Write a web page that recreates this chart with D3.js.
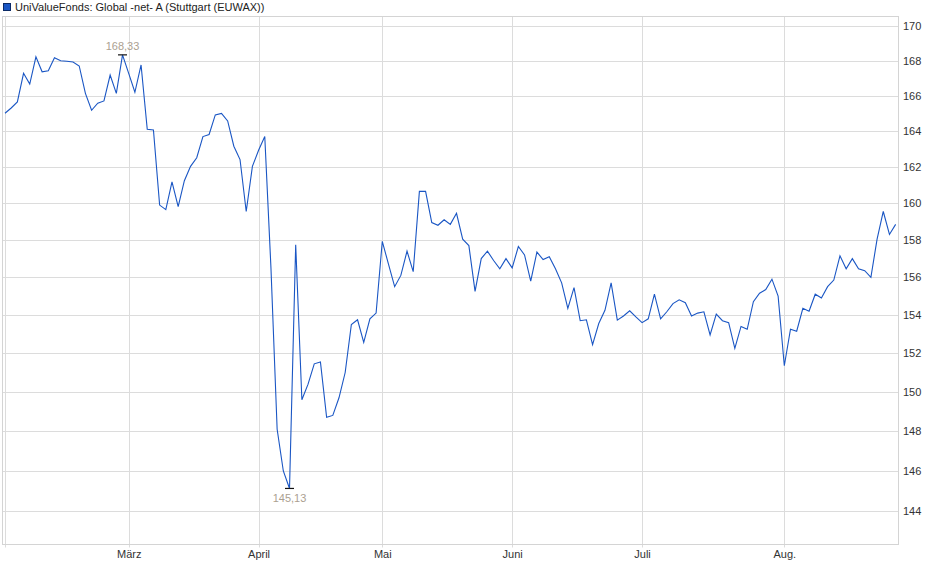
<!DOCTYPE html>
<html>
<head>
<meta charset="utf-8">
<script src="https://cdn.jsdelivr.net/npm/d3@7"></script>
<style>
  html, body { margin: 0; padding: 0; background: #fff; }
  svg { display: block; font-family: "Liberation Sans", Arial, sans-serif; }
</style>
</head>
<body>
<svg id="chart" width="940" height="579"></svg>
<script>
const title = "UniValueFonds: Global -net- A (Stuttgart (EUWAX))";

// Month gridlines: index of the first trading day of each month
const monthIndex  = [0, 20, 41, 61, 82, 103, 126];
const monthLabels = ["", "März", "April", "Mai", "Juni", "Juli", "Aug."];

const yTicks = [144, 146, 148, 150, 152, 154, 156, 158, 160, 162, 164, 166, 168, 170];

// Daily closing prices (trading days, Feb - Aug)
const prices = [
  165.00, 165.30, 165.64, 167.27, 166.66, 168.22, 167.36, 167.42, 168.17, 167.99,
  167.96, 167.92, 167.69, 166.13, 165.17, 165.57, 165.70, 167.17, 166.13, 168.33,
  167.27, 166.19, 167.75, 164.10, 164.06, 159.90, 159.65, 161.18, 159.81, 161.24,
  162.03, 162.51, 163.69, 163.81, 164.91, 164.99, 164.57, 163.15, 162.41, 159.55,
  162.03, 162.93, 163.69, 156.50, 148.10, 146.00, 145.13, 157.75, 149.60, 150.40,
  151.45, 151.55, 148.70, 148.80, 149.70, 151.00, 153.50, 153.75, 152.57, 153.80,
  154.10, 157.93, 156.70, 155.50, 156.10, 157.40, 156.30, 160.65, 160.65, 158.95,
  158.80, 159.10, 158.85, 159.45, 158.05, 157.70, 155.25, 157.00, 157.40, 156.90,
  156.45, 157.00, 156.50, 157.65, 157.20, 155.80, 157.35, 156.95, 157.10, 156.45,
  155.70, 154.35, 155.45, 153.70, 153.75, 152.45, 153.55, 154.25, 155.70, 153.73,
  153.95, 154.22, 153.90, 153.60, 153.80, 155.10, 153.80, 154.17, 154.60, 154.80,
  154.65, 153.95, 154.10, 154.17, 152.95, 154.05, 153.70, 153.60, 152.25, 153.40,
  153.25, 154.70, 155.15, 155.35, 155.90, 155.00, 151.35, 153.25, 153.15, 154.35,
  154.20, 155.10, 154.90, 155.50, 155.85, 157.15, 156.45, 157.00, 156.45, 156.35,
  156.00, 158.05, 159.55, 158.30, 158.85
];

const svg = d3.select("#chart");

const frame = { left: 2.5, right: 898.5, top: 16.5, bottom: 544.5 };

const x = d3.scaleLinear()
  .domain([0, prices.length - 1])
  .range([5, 5 + 6.185 * (prices.length - 1)]);

const y = d3.scaleLog()
  .domain([144, 170])
  .range([511.3, 26]);

// horizontal grid
svg.append("g").selectAll("line").data(yTicks).join("line")
  .attr("x1", frame.left).attr("x2", frame.right)
  .attr("y1", d => Math.round(y(d)) + 0.5).attr("y2", d => Math.round(y(d)) + 0.5)
  .attr("stroke", "#dcdcdc").attr("stroke-width", 1);

// vertical month grid
svg.append("g").selectAll("line").data(monthIndex).join("line")
  .attr("x1", d => Math.round(x(d)) + 0.5).attr("x2", d => Math.round(x(d)) + 0.5)
  .attr("y1", frame.top).attr("y2", frame.bottom + 3)
  .attr("stroke", "#dcdcdc").attr("stroke-width", 1);

// frame
svg.append("rect")
  .attr("x", frame.left).attr("y", frame.top)
  .attr("width", frame.right - frame.left).attr("height", frame.bottom - frame.top)
  .attr("fill", "none").attr("stroke", "#d4d4d4").attr("stroke-width", 1);

// right axis labels
svg.append("g").selectAll("text").data(yTicks).join("text")
  .attr("x", 903).attr("y", d => y(d) + 4)
  .attr("font-size", 11).attr("fill", "#333")
  .text(d => d);

// month labels
svg.append("g").selectAll("text").data(monthIndex).join("text")
  .attr("x", d => x(d) + 0.5).attr("y", 558)
  .attr("text-anchor", "middle")
  .attr("font-size", 11).attr("fill", "#333")
  .text((d, i) => monthLabels[i]);

// price line
const line = d3.line().x((d, i) => x(i)).y(d => y(d));
svg.append("path")
  .datum(prices)
  .attr("d", line)
  .attr("fill", "none")
  .attr("stroke", "#1a56c4")
  .attr("stroke-width", 1.1)
  .attr("stroke-linejoin", "miter");

// max / min markers
const maxI = d3.maxIndex(prices), minI = d3.minIndex(prices);
const fmt = v => v.toFixed(2).replace(".", ",");
function marker(i, above) {
  const cx = x(i), cy = y(prices[i]);
  svg.append("line")
    .attr("x1", cx - 4.5).attr("x2", cx + 4.5)
    .attr("y1", cy).attr("y2", cy)
    .attr("stroke", "#111").attr("stroke-width", 1.2);
  svg.append("text")
    .attr("x", cx).attr("y", above ? cy - 4.5 : cy + 13.5)
    .attr("text-anchor", "middle")
    .attr("font-size", 11).attr("fill", "#ab9f91")
    .text(fmt(prices[i]));
}
marker(maxI, true);
marker(minI, false);

// legend
svg.append("rect")
  .attr("x", 3.5).attr("y", 3.5).attr("width", 7).attr("height", 7)
  .attr("fill", "#1a56c4").attr("stroke", "#0b2a66").attr("stroke-width", 1);
svg.append("text")
  .attr("x", 15).attr("y", 11)
  .attr("font-size", 11).attr("fill", "#222")
  .text(title);
</script>
</body>
</html>
